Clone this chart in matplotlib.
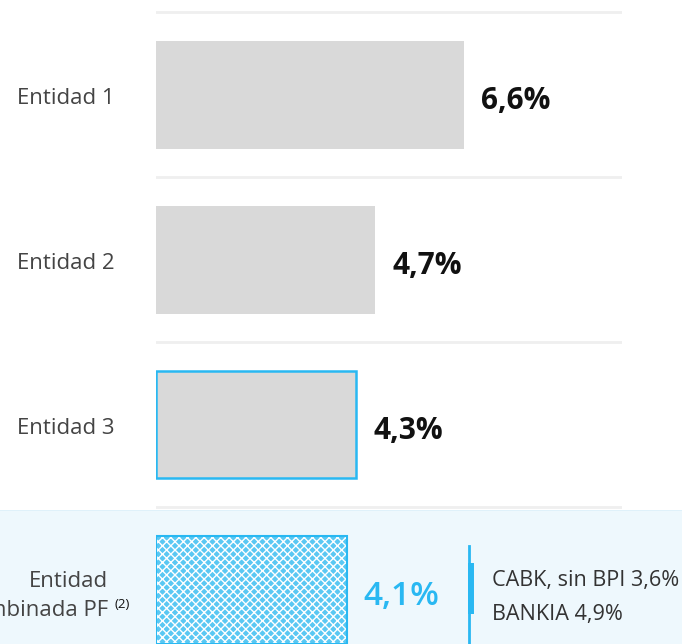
import matplotlib
matplotlib.use("Agg")
import matplotlib.pyplot as plt
from matplotlib.patches import Rectangle
from matplotlib.transforms import blended_transform_factory

categories = ["Entidad 1", "Entidad 2", "Entidad 3", "Entidad\ncombinada PF"]
footnote = "(2)"
values = [6.6, 4.7, 4.3, 4.1]
value_labels = ["6,6%", "4,7%", "4,3%", "4,1%"]
side_notes = ["CABK, sin BPI 3,6%", "BANKIA 4,9%"]

plt.rcParams["font.family"] = ["Open Sans", "DejaVu Sans"]

blue = "#29b8f2"
grey_bar = "#d9d9d9"
row_px = 165.0  # pixels per category row

fig = plt.figure(figsize=(6.82, 6.44), dpi=100)

# light blue band behind the combined entity row
fig.add_artist(Rectangle((0, 0), 1, 133 / 644, transform=fig.transFigure,
                         facecolor="#eef8fd", edgecolor="none", zorder=0))
fig.add_artist(Rectangle((0, 133 / 644), 1, 0.002, transform=fig.transFigure,
                         facecolor="#dff1fa", edgecolor="none", zorder=0))

ax = fig.add_axes([156 / 682, 0, 466 / 682, 1])
ax.patch.set_alpha(0)
ax.set_xlim(0, 10)
ax.set_ylim(3.33, -0.573)
ax.axis("off")

ypos = list(range(len(values)))

for y in ypos:
    ax.axhline(y - 0.5, color="#efefef", lw=2, zorder=1)

# plain grey bars
ax.barh(ypos[:3], values[:3], height=0.655, color=grey_bar, zorder=2)
ax.barh(ypos[2], values[2], height=0.645, color="none", edgecolor=blue, lw=1.8, zorder=3)

# hatched bar for the combined entity
plt.rcParams["hatch.linewidth"] = 1.0
ax.barh(ypos[3], values[3], height=0.655, color="#5ac8f3", edgecolor="white",
        hatch="xxxx", lw=0, zorder=2)
ax.barh(ypos[3], values[3], height=0.655, color="none", edgecolor=blue, lw=1.5, zorder=3)

for i, (v, lab) in enumerate(zip(values, value_labels)):
    if i < 3:
        ax.annotate(lab, (v, i), xytext=(17, -14), textcoords="offset pixels",
                    ha="left", va="baseline", fontsize=21.5, fontweight="bold",
                    color="#111111")
    else:
        ax.annotate(lab, (v, i), xytext=(16, -15.5), textcoords="offset pixels",
                    ha="left", va="baseline", fontsize=24, fontweight="semibold",
                    color=blue)

tr = blended_transform_factory(fig.transFigure, ax.transData)
for i, cat in enumerate(categories):
    if i < 3:
        fig.text(17 / 682, i + 9 / row_px, cat, transform=tr, ha="left", va="baseline",
                 fontsize=16, color="#444444")
    else:
        first, second = cat.split("\n")
        fig.text(68 / 682, i - 2.5 / row_px, first, transform=tr, ha="center",
                 va="baseline", fontsize=16, color="#444444")
        fig.text(108 / 682, i + 26.5 / row_px, second, transform=tr, ha="right",
                 va="baseline", fontsize=16, color="#444444")
        fig.text(115 / 682, i + 18.5 / row_px, footnote, transform=tr, ha="left",
                 va="baseline", fontsize=9.5, color="#111111")

# bracket line next to the combined value
ax.plot([469 / 682, 469 / 682], [3 - 44 / row_px, 3.4], transform=tr, color=blue, lw=2,
        zorder=3, clip_on=False)
ax.plot([471 / 682, 471 / 682], [3 - 27 / row_px, 3 + 24 / row_px], transform=tr,
        color=blue, lw=4.3, zorder=3, solid_capstyle="butt")

fig.text(492 / 682, 3 - 4 / row_px, side_notes[0], transform=tr, ha="left",
         va="baseline", fontsize=15.6, color="#333333")
fig.text(492 / 682, 3 + 30 / row_px, side_notes[1], transform=tr, ha="left",
         va="baseline", fontsize=15.6, color="#333333")

fig.savefig("out.png", dpi=100)
